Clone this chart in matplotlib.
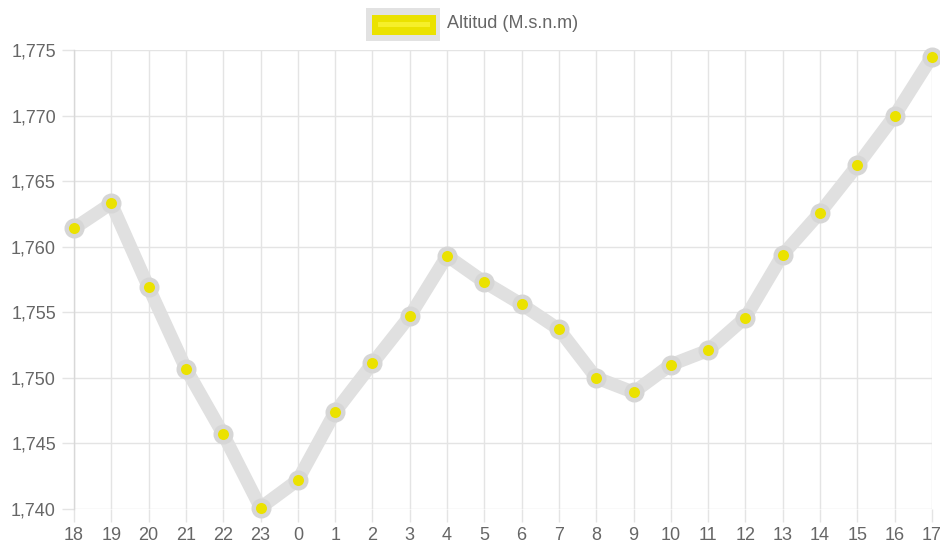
import matplotlib
matplotlib.use("Agg")
import matplotlib.pyplot as plt
from matplotlib.patches import Rectangle
from matplotlib.ticker import FuncFormatter

hours = ["18", "19", "20", "21", "22", "23", "0", "1", "2", "3", "4", "5",
         "6", "7", "8", "9", "10", "11", "12", "13", "14", "15", "16", "17"]
altitude = [1761.4, 1763.3, 1756.9, 1750.7, 1745.7, 1740.1, 1742.2, 1747.4,
            1751.1, 1754.7, 1759.3, 1757.3, 1755.6, 1753.7, 1750.0, 1748.9,
            1751.0, 1752.1, 1754.6, 1759.4, 1762.6, 1766.2, 1770.0, 1774.5]
series_label = "Altitud (M.s.n.m)"
y_ticks = [1740, 1745, 1750, 1755, 1760, 1765, 1770, 1775]

plt.rcParams['font.family'] = ['Liberation Sans', 'DejaVu Sans']

W, H = 940, 546
fig = plt.figure(figsize=(W / 100, H / 100), dpi=100)
ax = fig.add_axes([74 / W, 1 - 509 / H, (932 - 74) / W, (509 - 50) / H])

grid_c = "#e4e4e4"
text_c = "#666666"
yellow = "#ebe200"
line_gray = "#e0e0e0"
edge_gray = "#d6d6d6"

x = list(range(len(hours)))
ax.plot(x, altitude, color=line_gray, lw=9.5, solid_capstyle='round',
        solid_joinstyle='round', zorder=3, clip_on=False)
ax.plot(x, altitude, ls='none', marker='o', markersize=11.2,
        markerfacecolor=yellow, markeredgecolor=edge_gray,
        markeredgewidth=3.2, zorder=4, clip_on=False)

ax.set_xlim(0, len(hours) - 1)
ax.set_ylim(1740, 1775)
ax.set_xticks(x)
ax.set_xticklabels(hours)
ax.set_yticks(y_ticks)
ax.yaxis.set_major_formatter(FuncFormatter(lambda v, p: f"{v:,.0f}"))

ax.grid(True, color=grid_c, lw=1)
ax.set_axisbelow(True)
for s in ['top', 'right', 'bottom']:
    ax.spines[s].set_visible(False)
ax.spines['left'].set_color("#d8d8d8")
ax.spines['left'].set_linewidth(1)
ax.tick_params(axis='both', colors=grid_c, labelcolor=text_c, labelsize=13,
               length=9, width=1)
ax.tick_params(axis='x', pad=4)
ax.tick_params(axis='y', pad=4)

# legend
fig.patches.append(Rectangle((366 / W, 1 - 41 / H), 74 / W, 33 / H,
                             transform=fig.transFigure, facecolor="#e2e2e2",
                             edgecolor='none'))
fig.patches.append(Rectangle((372 / W, 1 - 35 / H), 64 / W, 20 / H,
                             transform=fig.transFigure, facecolor=yellow,
                             edgecolor='none'))
fig.patches.append(Rectangle((378 / W, 1 - 27 / H), 52 / W, 5 / H,
                             transform=fig.transFigure, facecolor="#f6ef2a",
                             edgecolor='none'))
fig.text(447 / W, 1 - 24 / H, series_label, color=text_c, fontsize=13,
         va='center', ha='left')

fig.savefig("out.png", dpi=100, facecolor='white')
